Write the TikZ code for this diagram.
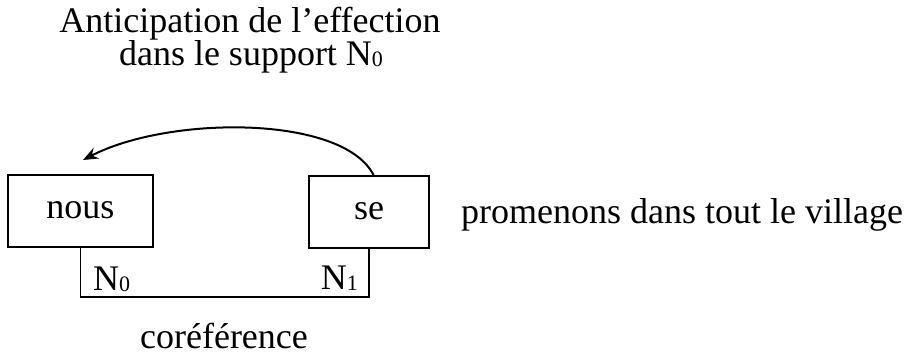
\documentclass[tikz,border=0pt]{standalone}
\usepackage{fontspec}
\setmainfont{Liberation Serif}
\usetikzlibrary{arrows.meta}
\tikzset{
  wordbox/.style={draw, line width=1.4pt, inner sep=0pt, text height=15pt, text depth=0pt},
  lbl/.style={inner sep=0pt, font=\fontsize{36}{33}\selectfont},
  link/.style={line width=1.4pt},
  effarrow/.style={line width=2pt, -{Stealth[length=15pt,width=12pt,inset=5pt]}}
}
\newcommand{\sub}[1]{\raisebox{-1.5pt}{\fontsize{22}{22}\selectfont #1}}
\begin{document}
\begin{tikzpicture}[x=1pt,y=-1pt]
\useasboundingbox (0,0) rectangle (908,356);
\node[wordbox, lbl, minimum width=145pt, minimum height=72pt] (nous) at (80.5,211) {nous};
\node[wordbox, lbl, minimum width=120pt, minimum height=72pt] (se) at (369,212) {se};
\node[lbl, anchor=base west] (rest) at (461,223) {promenons dans tout le village};
\node[lbl, anchor=base] (t1) at (250,32) {Anticipation de l’effection};
\node[lbl, anchor=base] (t2) at (251,65) {dans le support N\sub{0}};
\node[lbl, anchor=base west] (n0) at (93,290) {N\sub{0}};
\node[lbl, anchor=base east] (n1) at (358,289) {N\sub{1}};
\node[lbl, anchor=base] (coref) at (224,348) {coréférence};
\coordinate (low) at (220,297);
\draw[link] (nous.south) |- (low) -| (se.south);
\coordinate (start) at (374,176);
\coordinate (tip) at (83,160);
\draw[effarrow] (start) .. controls (345,115) and (170,115) .. (tip);
\end{tikzpicture}
\end{document}
